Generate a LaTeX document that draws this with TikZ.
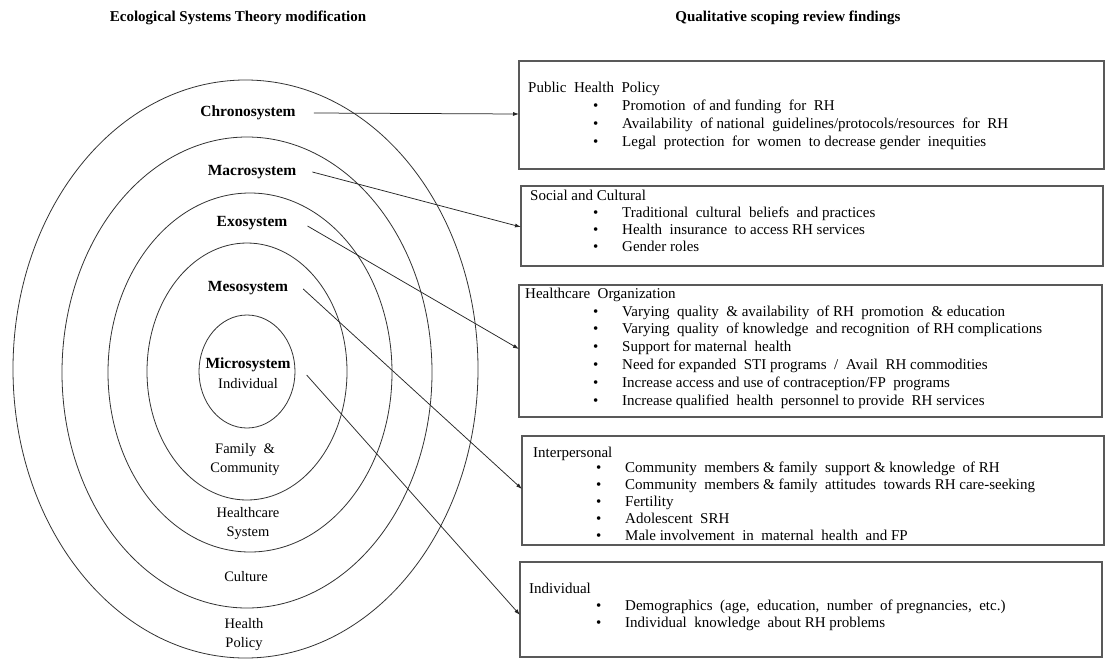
\documentclass[tikz,border=0pt]{standalone}
\usepackage{fontspec}
\setmainfont{Liberation Serif}
\usetikzlibrary{arrows.meta}
\newcommand\blitem[1]{\makebox[29pt][l]{\textbullet}#1}
\begin{document}
\begin{tikzpicture}[x=1pt,y=-1pt,
  ring/.style={draw=black!80, line width=0.8pt},
  sysl/.style={font=\fontsize{15.5}{18}\selectfont\bfseries, inner sep=0pt},
  lvl/.style={font=\fontsize{14.5}{19}\selectfont, align=center, inner sep=0pt},
  hdr/.style={font=\fontsize{15}{18}\selectfont\bfseries, inner sep=0pt},
  box/.style={draw=black!65, line width=1.1pt, inner sep=0pt, outer sep=0pt, anchor=north west},
  btitle/.style={font=\fontsize{15}{18}\selectfont, anchor=base west, inner sep=0pt},
  bline/.style={font=\fontsize{15}{18}\selectfont, anchor=base west, inner sep=0pt},
  arr/.style={-{Latex[length=6pt,width=4pt]}, line width=0.75pt, draw=black!85}]
\useasboundingbox (0,0) rectangle (1108,659);
\fill[white] (0,0) rectangle (1108,659);

% headers
\node[hdr] (h1) at (238,18) {Ecological Systems Theory modification};
\node[hdr] (h2) at (788,18) {Qualitative scoping review findings};

% rings
\draw[ring] (245.5,369) ellipse [x radius=232.5pt, y radius=289pt];
\draw[ring] (247,372.5) ellipse [x radius=185pt, y radius=235.5pt];
\draw[ring] (250,372.5) ellipse [x radius=142pt, y radius=179.5pt];
\draw[ring] (247,371.5) ellipse [x radius=100pt, y radius=128.5pt];
\draw[ring] (247,371.5) ellipse [x radius=48pt, y radius=56.5pt];

% ring labels
\node[sysl] (chrono) at (248,113) {Chronosystem};
\node[sysl] (macro) at (252,172) {Macrosystem};
\node[sysl] (exo) at (252,223) {Exosystem};
\node[sysl] (meso) at (248,288) {Mesosystem};
\node[sysl] (micro) at (248,365) {Microsystem};
\node[lvl] (ind) at (248,384) {Individual};
\node[lvl] (fam) at (245,459.5) {Family \ \&\\Community};
\node[lvl] (hcs) at (248,524) {Healthcare\\System};
\node[lvl] (cul) at (246,577) {Culture};
\node[lvl] (hp) at (244,635) {Health\\Policy};

% boxes
\node[box, minimum width=585pt, minimum height=108pt] (b1) at (519,61) {};
\node[box, minimum width=582pt, minimum height=80pt] (b2) at (521,186) {};
\node[box, minimum width=583pt, minimum height=132pt] (b3) at (519,285) {};
\node[box, minimum width=582pt, minimum height=109pt] (b4) at (522,436) {};
\node[box, minimum width=582pt, minimum height=95pt] (b5) at (520,562) {};

% box texts
\node[btitle] (t1) at (528,92) {Public \ Health \ Policy};
\foreach \t [count=\i] in {{Promotion \ of and funding \ for \ RH},
  {Availability \ of national \ guidelines/protocols/resources \ for \ RH},
  {Legal \ protection \ for \ women \ to decrease gender \ inequities}}
  \node[bline] (l1-\i) at (593,{110+18*(\i-1)}) {\blitem{\t}};

\node[btitle] (t2) at (530,200) {Social and Cultural};
\foreach \t [count=\i] in {{Traditional \ cultural \ beliefs \ and practices},
  {Health \ insurance \ to access RH services},
  {Gender roles}}
  \node[bline] (l2-\i) at (593,{217+17*(\i-1)}) {\blitem{\t}};

\node[btitle] (t3) at (525,298) {Healthcare \ Organization};
\foreach \t [count=\i] in {{Varying \ quality \ \& availability \ of RH \ promotion \ \& education},
  {Varying \ quality \ of knowledge \ and recognition \ of RH complications},
  {Support for maternal \ health},
  {Need for expanded \ STI programs \ / \ Avail \ RH commodities},
  {Increase access and use of contraception/FP \ programs},
  {Increase qualified \ health \ personnel to provide \ RH services}}
  \node[bline] (l3-\i) at (593,{316+17.8*(\i-1)}) {\blitem{\t}};

\node[btitle] (t4) at (533,457) {Interpersonal};
\foreach \t [count=\i] in {{Community \ members \& family \ support \& knowledge \ of RH},
  {Community \ members \& family \ attitudes \ towards RH care-seeking},
  {Fertility},
  {Adolescent \ SRH},
  {Male involvement \ in \ maternal \ health \ and FP}}
  \node[bline] (l4-\i) at (596,{472+17.2*(\i-1)}) {\blitem{\t}};

\node[btitle] (t5) at (529,593) {Individual};
\foreach \t [count=\i] in {{Demographics \ (age, \ education, \ number \ of pregnancies, \ etc.)},
  {Individual \ knowledge \ about RH problems}}
  \node[bline] (l5-\i) at (596,{610+17*(\i-1)}) {\blitem{\t}};

% arrow end points on the boxes
\path (b1.north west) ++(0,53) coordinate (e1);
\path (b2.north west) ++(0,41) coordinate (e2);
\path (b3.north west) ++(0,64) coordinate (e3);
\path (b4.north west) ++(0,53) coordinate (e4);
\path (b5.north west) ++(0,53) coordinate (e5);

% arrows
\draw[arr] ([xshift=18pt]chrono.east) -- (e1);
\draw[arr] ([xshift=16pt]macro.east) -- (e2);
\draw[arr] ([xshift=20pt,yshift=-3pt]exo.east) -- (e3);
\draw[arr] ([xshift=15pt,yshift=-1pt]meso.east) -- (e4);
\draw[arr] ([xshift=16pt,yshift=-10pt]micro.east) -- (e5);
\end{tikzpicture}
\end{document}
